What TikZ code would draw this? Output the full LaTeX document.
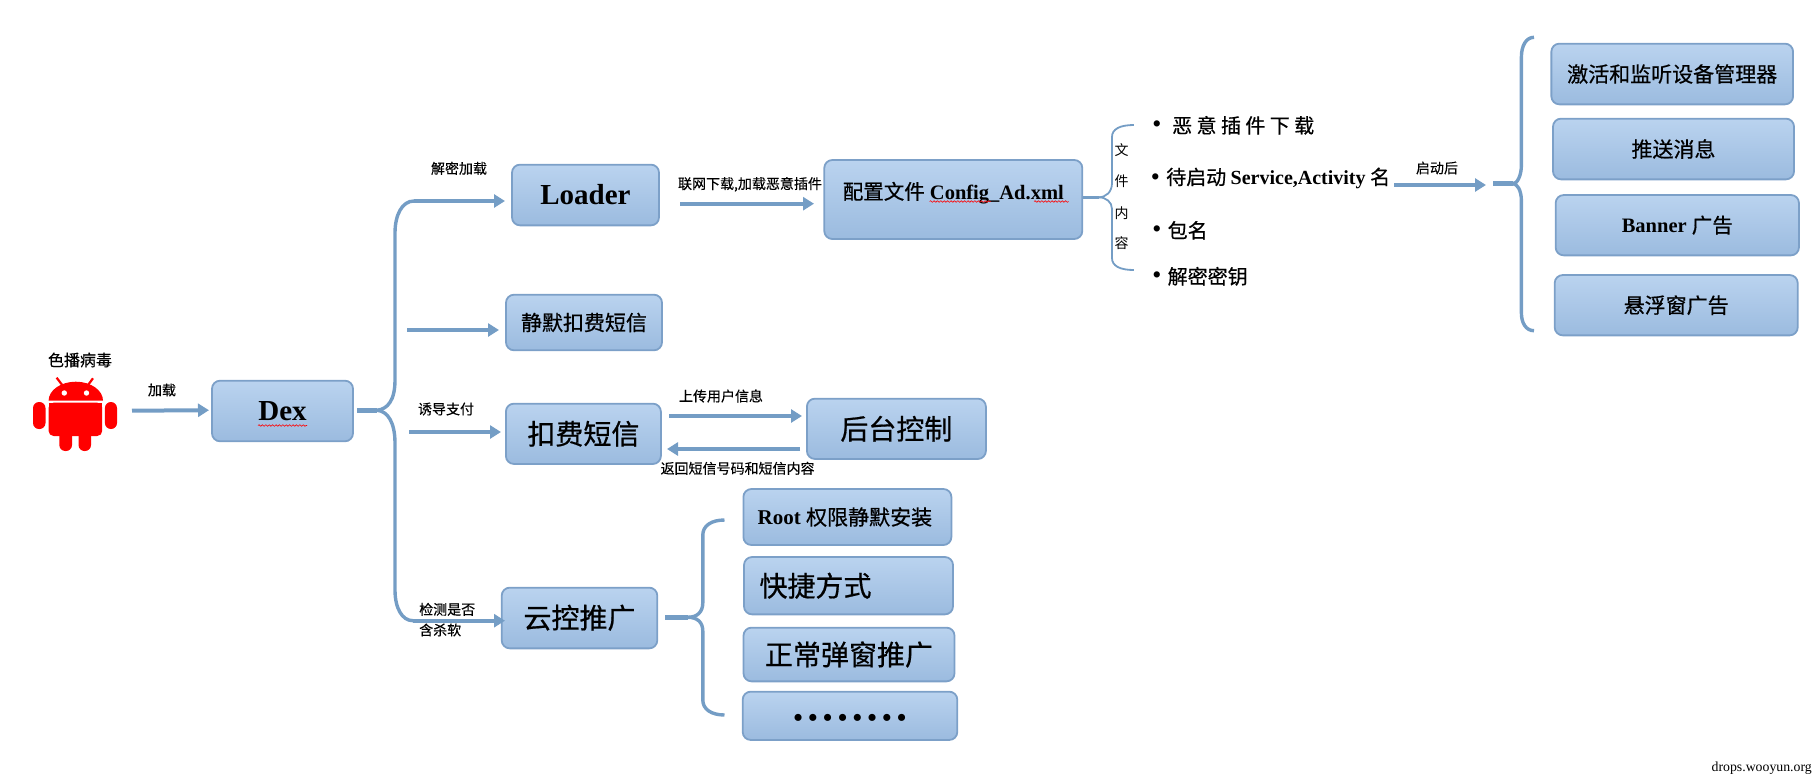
\documentclass[tikz,border=0pt]{standalone}
\usepackage{fontspec}
\setmainfont{Liberation Serif}
\newfontfamily\cjk[FakeBold=0.3]{Noto Sans CJK SC}
\newfontfamily\cjkt{Noto Sans CJK SC}
\newfontfamily\cjkb[FakeBold=0.6]{Noto Sans CJK SC}
\usetikzlibrary{arrows.meta,decorations.pathmorphing}
\definecolor{lineblue}{RGB}{116,157,197}
\definecolor{boxedge}{RGB}{124,160,200}
\definecolor{boxtop}{RGB}{186,211,239}
\definecolor{boxbot}{RGB}{155,187,223}
\newcommand{\fs}[1]{\fontsize{#1}{#1}\selectfont}
\newcommand{\latb}[1]{{\rmfamily\bfseries #1}}
\newcommand{\gp}{\hskip4.4pt}
\newcommand{\dg}{\hskip5.7pt}
\tikzset{
  box/.style={draw=boxedge,line width=1.8pt,rounded corners=8pt,top color=boxtop,bottom color=boxbot,inner sep=0pt,align=center,text=black},
  arr/.style={draw=lineblue,line width=4pt,-{Triangle[length=11pt,width=13pt]}},
  brace/.style={draw=lineblue,line width=3.4pt,line cap=butt},
  stem/.style={draw=lineblue,line width=5pt},
  thinbrace/.style={draw=lineblue,line width=1.8pt},
  lab/.style={inner sep=0pt,font=\cjk\fs{14}},
  vlab/.style={inner sep=0pt,font=\cjkt\fs{14}},
  item/.style={inner sep=0pt,anchor=west,font=\cjkb\fs{20}},
  bull/.style={inner sep=0pt,font=\bfseries\fs{23}},
  wavy/.style={draw=red,line width=.6pt,decorate,decoration={snake,amplitude=.8pt,segment length=3.4pt}},
  droid/.style={fill=red,draw=none}
}
\begin{document}
\begin{tikzpicture}[x=1pt,y=-1pt]
\useasboundingbox (0,0) rectangle (1816,780);
% android
\fill[droid] (48.6,400.7) arc[start angle=180,end angle=360,x radius=27.2,y radius=19] -- cycle;
\fill[droid,rounded corners=5pt] (48.6,402.7) -- (102.2,402.7) -- (102.2,436) -- (48.6,436) -- cycle;
\fill[droid] (48.6,402.7) rectangle (102.2,420);
\fill[droid,rounded corners=6pt] (33,402) rectangle (45.5,429);
\fill[droid,rounded corners=6pt] (104.9,402) rectangle (117,429);
\fill[droid,rounded corners=6pt] (59.3,428) rectangle (72,451);
\fill[droid,rounded corners=6pt] (78.5,428) rectangle (91,451);
\draw[red,line width=2.2pt] (56.6,377.7) -- (63,386);
\draw[red,line width=2.2pt] (93,378.3) -- (87.3,386);
\fill[white] (64.3,393) circle (2.7);
\fill[white] (86.5,393) circle (2.7);
\node[lab,font=\cjk\fs{16}] (virus) at (80,360) {色播病毒};
\coordinate (droidout) at (132,410.7);
\coordinate (dexin) at (209,410.2);
% boxes
\node[box,minimum width=141pt,minimum height=60.6pt] (dex) at (282.5,411) {\latb{\fs{29}Dex}};
\node[box,minimum width=147pt,minimum height=60.7pt] (loader) at (585.5,195) {\latb{\fs{29}Loader}};
\node[box,minimum width=258pt,minimum height=79pt] (cfg) at (953.3,199.5) {\raisebox{18pt}{\fs{20.5}{\cjkb 配置文件} \latb{Config\_Ad.xml}}};
\node[box,minimum width=156pt,minimum height=55.6pt] (silent) at (584,322.5) {\cjkb\fs{21}静默扣费短信};
\node[box,minimum width=155pt,minimum height=60.3pt] (sms) at (583.4,433.8) {\cjkb\fs{28}扣费短信};
\node[box,minimum width=179pt,minimum height=60.3pt] (ctrl) at (896.4,428.8) {\cjkb\fs{28}后台控制};
\node[box,minimum width=155.6pt,minimum height=60.7pt] (cloud) at (579.5,618) {\raisebox{3pt}{\cjkb\fs{28}云控推广}};
\node[box,minimum width=208pt,minimum height=56pt] (root) at (847.4,517) {\hspace*{-5pt}\fs{21}\latb{Root} {\cjkb 权限静默安装}};
\node[box,minimum width=209pt,minimum height=57.3pt] (quick) at (848.5,585.7) {\hspace*{-66pt}\cjkb\fs{28}快捷方式};
\node[box,minimum width=211pt,minimum height=53.7pt] (popup) at (849,654.5) {\raisebox{-4pt}{\cjkb\fs{28}正常弹窗推广}};
\node[box,minimum width=214.6pt,minimum height=48.3pt] (more) at (850,715.8) {\raisebox{-21pt}{\fs{26}\bfseries •\dg •\dg •\dg •\dg •\dg •\dg •\dg •}};
\node[box,minimum width=241.7pt,minimum height=60.7pt] (b1) at (1672.2,74) {\cjkb\fs{21}激活和监听设备管理器};
\node[box,minimum width=241pt,minimum height=60.7pt] (b2) at (1673.5,149) {\cjkb\fs{21}推送消息};
\node[box,minimum width=243.3pt,minimum height=60.3pt] (b3) at (1677.3,225.2) {\fs{20.5}\latb{Banner} {\cjkb 广告}};
\node[box,minimum width=243pt,minimum height=60.3pt] (b4) at (1676.2,305.2) {\cjkb\fs{21}悬浮窗广告};
% wavy spell-check underlines
\draw[wavy] ([xshift=-24.5pt,yshift=-14.5pt]dex.center) -- ([xshift=24.5pt,yshift=-14.5pt]dex.center);
\draw[wavy] (929.6,201.5) -- (990.6,201.5);
\draw[wavy] (1034,201.5) -- (1068.7,201.5);
% free ends
\coordinate (sL) at (407,330);
\coordinate (sT) at (499,330);
\coordinate (pL) at (409,432);
\coordinate (pT) at (501,432);
\coordinate (dexstem) at (357,410.3);
\coordinate (dexfork) at (377,410.3);
\coordinate (loadS) at (414,201);
\coordinate (loadT) at (505,201);
\coordinate (cloudS) at (413,620.7);
\coordinate (cloudT) at (505,620.7);
\coordinate (cfgA) at (680,203.7);
\coordinate (cfgT) at (814,203.7);
\coordinate (upA) at (669,416);
\coordinate (upB) at (802,416);
\coordinate (dnA) at (800,449);
\coordinate (dnB) at (667,449);
% connectors
\draw[arr] (droidout) -- (dexin);
\draw[stem] (dexstem) -- (dexfork);
\draw[brace] (dexfork) .. controls (388,409) and (395,400) .. (395,380) -- (395,233) .. controls (395,215) and (402,201) .. (loadS);
\draw[brace] (dexfork) .. controls (388,411) and (395,423) .. (395,443) -- (395,590) .. controls (395,608) and (402,620.7) .. (cloudS);
\draw[arr] (loadS) -- (loadT);
\draw[arr] (sL) -- (sT);
\draw[arr] (pL) -- (pT);
\draw[arr] (cloudS) -- (cloudT);
\draw[arr] (cfgA) -- (cfgT);
\draw[arr] (upA) -- (upB);
\draw[arr] (dnA) -- (dnB);
% cloud brace
\coordinate (cbS) at (665,617.3);
\coordinate (cbF) at (688,617.3);
\coordinate (cbT) at (724.5,520);
\coordinate (cbB) at (724.5,715);
\draw[stem] (cbS) -- (cbF);
\draw[brace] (cbF) .. controls (697,617.3) and (702.8,612) .. (702.8,603) -- (702.8,535) .. controls (702.8,526) and (711,520) .. (cbT);
\draw[brace] (cbF) .. controls (697,617.3) and (702.8,622) .. (702.8,631) -- (702.8,700) .. controls (702.8,709) and (711,715) .. (cbB);
% config brace
\coordinate (tbF) at (1098.6,197.3);
\coordinate (tbT) at (1133.8,125);
\coordinate (tbB) at (1133.8,270);
\draw[thinbrace,line width=2.4pt] (cfg.east |- tbF) -- (tbF);
\draw[thinbrace] (tbF) .. controls (1106,197.3) and (1112,192) .. (1112,183) -- (1112,137) .. controls (1112,129) and (1120,125) .. (tbT);
\draw[thinbrace] (tbF) .. controls (1106,197.3) and (1112,202) .. (1112,209) -- (1112,258) .. controls (1112,266) and (1120,270) .. (tbB);
% arrow + big brace
\coordinate (runA) at (1394,185);
\coordinate (runB) at (1486,185);
\draw[arr] (runA) -- (runB);
\coordinate (bbS) at (1493,183.7);
\coordinate (bbF) at (1513,183.7);
\coordinate (bbT) at (1534,37.3);
\coordinate (bbB) at (1534,330.7);
\draw[stem] (bbS) -- (bbF);
\draw[brace] (bbF) .. controls (1517,183.7) and (1521.4,176) .. (1521.4,165) -- (1521.4,57) .. controls (1521.4,46) and (1526,37.3) .. (bbT);
\draw[brace] (bbF) .. controls (1517,183.7) and (1521.4,190) .. (1521.4,201) -- (1521.4,313) .. controls (1521.4,323) and (1526,330.7) .. (bbB);
% labels
\node[lab] (l1) at (162,390) {加载};
\node[lab] (l2) at (459,168.3) {解密加载};
\node[lab] (l3) at (446,409) {诱导支付};
\node[lab,anchor=west] (l4) at (419,609.3) {检测是否};
\node[lab,anchor=west] (l5) at (419,630) {含杀软};
\node[lab] (l6) at (750,184.3) {联网下载,加载恶意插件};
\node[lab] (l7) at (721,396) {上传用户信息};
\node[lab] (l8) at (737.6,468.3) {返回短信号码和短信内容};
\node[lab] (l9) at (1437,168) {启动后};
\node[vlab] (v1) at (1121.7,150) {文};
\node[vlab] (v2) at (1121.7,181.3) {件};
\node[vlab] (v3) at (1121.7,212.7) {内};
\node[vlab] (v4) at (1121.7,243.3) {容};
% bullets
\node[bull] (d1) at (1157,126.5) {•};
\node[bull] (d2) at (1155.5,179.5) {•};
\node[bull] (d3) at (1157,231.5) {•};
\node[bull] (d4) at (1157,277.5) {•};
\node[item] (i1) at (1172,125.3) {恶\gp 意\gp 插\gp 件\gp 下\gp 载};
\node[item] (i2) at (1166,178.3) {待启动 \latb{Service,Activity} 名};
\node[item] (i3) at (1167.5,230.3) {包名};
\node[item] (i4) at (1167.5,276.3) {解密密钥};
\node[inner sep=0pt,anchor=east,font=\fs{13.8}] (wm) at (1812,768) {drops.wooyun.org};
\end{tikzpicture}
\end{document}
